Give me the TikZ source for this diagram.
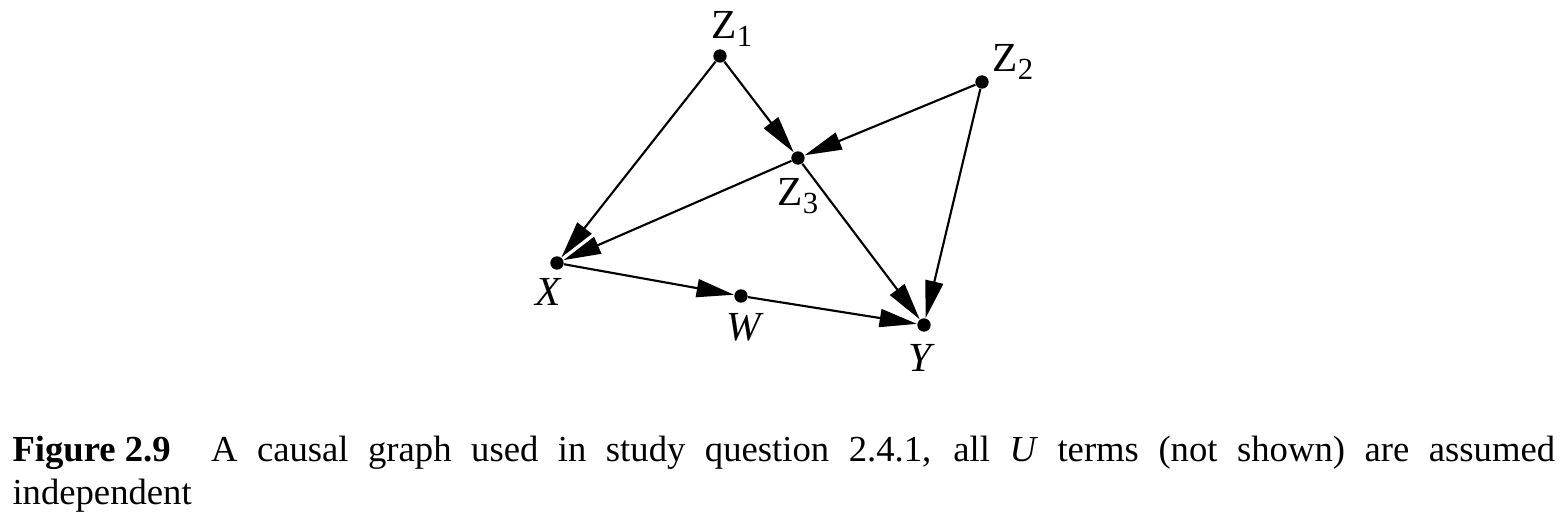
\documentclass[tikz,border=0pt]{standalone}
\usepackage{fontspec}
\setmainfont{Liberation Serif}
\usetikzlibrary{arrows.meta}

\newcommand{\zsub}[1]{Z\raisebox{-6pt}{\fontsize{23}{23}\selectfont #1}}

\tikzset{every picture/.style={line width=0.75pt}}
\tikzset{
  dot/.style={circle,fill=black,inner sep=0pt,minimum size=10pt},
  lab/.style={inner sep=0pt,font=\fontsize{31}{31}\selectfont},
  edge/.style={line width=1.6,-{Triangle[length=28pt,width=13.5pt]}}
}

\begin{document}
\begin{tikzpicture}[x=0.75pt,y=0.75pt,yscale=-1,xscale=1]
\path[use as bounding box] (0,0) rectangle (1566,524);

% Dots
\node [dot] (z1) at (720,56) {};
\node [dot] (z2) at (982,82) {};
\node [dot] (z3) at (798,158) {};
\node [dot] (x) at (557,263) {};
\node [dot] (w) at (741,296) {};
\node [dot] (y) at (924,325) {};

% Text Node
\node [lab,anchor=base west] (lz1) at (711,39) {\zsub{1}};
% Text Node
\node [lab,anchor=base west] (lz2) at (992,72) {\zsub{2}};
% Text Node
\node [lab,anchor=base west] (lz3) at (777,205) {\zsub{3}};
% Text Node
\node [lab,anchor=base] (lx) at (549,305) {\textit{X}};
% Text Node
\node [lab,anchor=base] (lw) at (745,340) {\textit{W}};
% Text Node
\node [lab,anchor=base] (ly) at (922,371) {\textit{Y}};

% Edges
\draw [edge] (z1) -- (x);
\draw [edge] (z1) -- (z3);
\draw [edge] (z2) -- (z3);
\draw [edge] (z2) -- (y);
\draw [edge] (z3) -- (x);
\draw [edge] (z3) -- (y);
\draw [edge] (x) -- (w);
\draw [edge] (w) -- (y);

% Caption
\node [anchor=north west,inner sep=0pt] (cap) at (12,436) {\parbox{1157pt}{\fontsize{27.5}{32}\selectfont\hyphenpenalty=10000\exhyphenpenalty=10000
\textbf{Figure\hspace{0.25em}2.9}\hspace{1.1em}A causal graph used in study question 2.4.1, all \textit{U} terms (not shown) are assumed\linebreak independent}};

\end{tikzpicture}
\end{document}
